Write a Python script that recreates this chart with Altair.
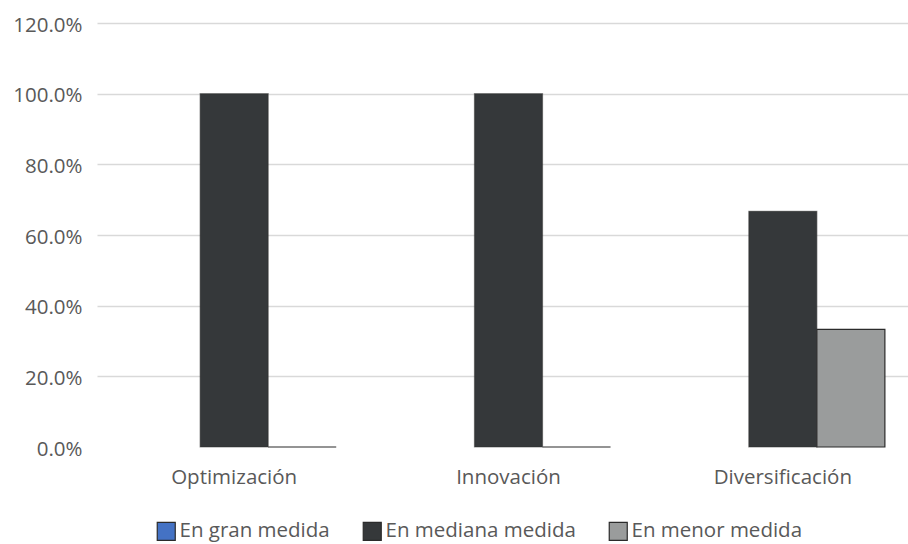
import altair as alt
import pandas as pd

categories = ["Optimización", "Innovación", "Diversificación"]
series = ["En gran medida", "En mediana medida", "En menor medida"]
gran = [0.0, 0.0, 0.0]
mediana = [1.0, 1.0, 0.667]
menor = [0.0, 0.0, 0.333]

fill_colors = ["#4472C4", "#35383a", "#9a9c9c"]
stroke_opacity = [0, 1, 1]

rows = []
for i, cat in enumerate(categories):
    for s, vals in zip(series, [gran, mediana, menor]):
        rows.append({"categoria": cat, "serie": s, "valor": vals[i]})
df = pd.DataFrame(rows)

font = "Open Sans"
text_color = "#595959"
fs = 20.5

bars = alt.Chart(df).mark_bar(stroke="#2b2b2b", strokeWidth=1.2).encode(
    x=alt.X("categoria:N", sort=categories, title=None,
            scale=alt.Scale(paddingInner=0.256, paddingOuter=0.128, range=[0, 823]),
            axis=alt.Axis(labelAngle=0, labelFont=font, labelFontSize=fs,
                          labelColor=text_color, labelPadding=20,
                          domain=False, ticks=False)),
    xOffset=alt.XOffset("serie:N", sort=series, scale=alt.Scale(paddingInner=0, paddingOuter=0)),
    y=alt.Y("valor:Q", title=None,
            scale=alt.Scale(domain=[0, 1.2], nice=False),
            axis=alt.Axis(values=[0, 0.2, 0.4, 0.6, 0.8, 1.0, 1.2], format=".1%",
                          labelFont=font, labelFontSize=fs, labelColor=text_color,
                          labelPadding=15, labelOffset=2, domain=False, ticks=False,
                          grid=True, gridColor="#d9d9d9", gridWidth=1.5,
                          gridOpacity=alt.ExprRef("datum.value === 0 ? 0 : 1"))),
    color=alt.Color("serie:N", sort=series, title=None,
                    scale=alt.Scale(domain=series, range=fill_colors),
                    legend=alt.Legend(orient="none", direction="horizontal",
                                      legendX=59, legendY=498,
                                      symbolType="square", symbolSize=324,
                                      symbolStrokeWidth=1.2, symbolStrokeColor="#2b2b2b",
                                      labelFont=font, labelFontSize=fs, labelLimit=400,
                                      labelColor=text_color, labelOffset=3,
                                      columnPadding=30)),
    strokeOpacity=alt.StrokeOpacity("serie:N", sort=series, title=None,
                                    scale=alt.Scale(domain=series, range=stroke_opacity)),
).properties(width=811, height=424)

chart = bars.properties(
    padding={"left": 97, "top": 23, "right": 0, "bottom": 97},
    autosize=alt.AutoSizeParams(type="none"),
    background="white",
).configure_view(stroke=None)

chart.save("out.html", embed_options={"renderer": "svg", "actions": False})
